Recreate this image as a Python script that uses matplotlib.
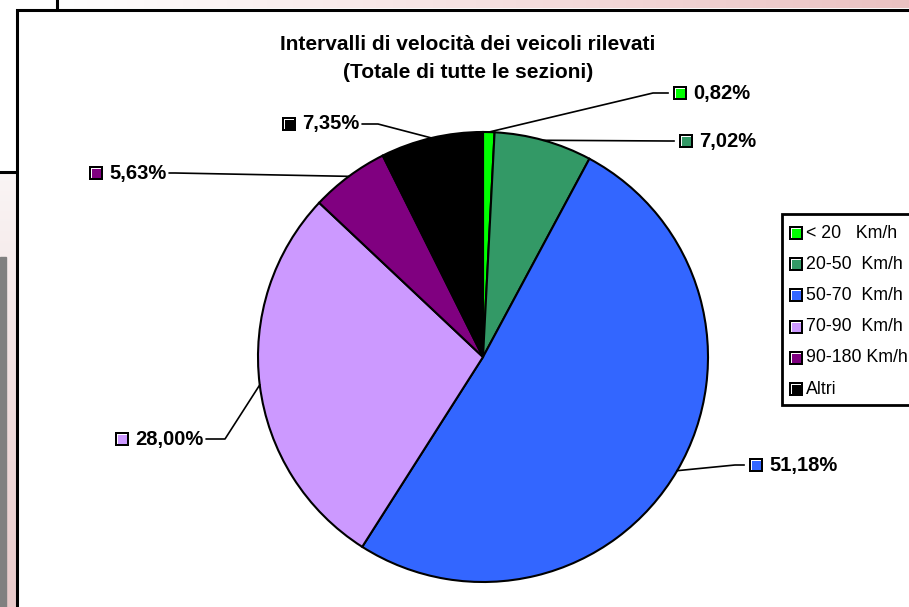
import matplotlib.pyplot as plt
import numpy as np
from matplotlib.patches import Rectangle

# Data
categories = ["< 20   Km/h", "20-50  Km/h", "50-70  Km/h", "70-90  Km/h", "90-180 Km/h", "Altri"]
shares = [0.82, 7.02, 51.18, 28.00, 5.63, 7.35]
colors = ["#00FF00", "#339966", "#3366FF", "#CC99FF", "#800080", "#000000"]
title_lines = ["Intervalli di velocità dei veicoli rilevati", "(Totale di tutte le sezioni)"]

# label layout in screen pixels: (text left x, text centre y, elbow x)
label_pos = [(693, 93, 653), (699, 141, 668), (769, 465, 735),
             (135, 439, 225), (109, 173, 175), (302, 124, 378)]

plt.rcParams["font.family"] = ["Liberation Sans", "DejaVu Sans"]

W, H = 909, 607
fig = plt.figure(figsize=(W / 100, H / 100), dpi=100)
ax = fig.add_axes([0, 0, 1, 1])

# background outside the chart area (screenshot surroundings)
top_grad = np.linspace(0, 1, 256).reshape(1, -1)
pink = np.array([0.92, 0.76, 0.76])
white = np.array([1.0, 1.0, 1.0])
img = white + (pink - white) * top_grad[..., None]
ax.imshow(img, extent=(57, W, 8, 0), aspect="auto", zorder=0)
side = np.linspace(0, 1, 256).reshape(-1, 1)
lo, hi = np.array([0.98, 0.96, 0.96]), np.array([0.91, 0.79, 0.79])
img2 = lo + (hi - lo) * side[..., None]
ax.imshow(img2, extent=(0, 16, H, 172), aspect="auto", zorder=0)
ax.add_patch(Rectangle((0, 257), 6, H - 257, color="#808080", zorder=1))
ax.plot([0, 16], [172, 172], color="black", lw=2.2, zorder=2)
ax.plot([57, 57], [0, 9], color="black", lw=2.2, zorder=2)

# chart area
ax.add_patch(Rectangle((17, 9.5), W, H, facecolor="white", edgecolor="black", lw=2.2, zorder=2))

# pie (y axis is inverted, so counterclock=True draws clockwise on screen)
cx, cy, r = 483, 357, 225
wedges, _ = ax.pie(shares, colors=colors, startangle=-90, counterclock=True,
                   center=(cx, cy), radius=r, frame=True,
                   wedgeprops=dict(edgecolor="black", linewidth=1.5, zorder=3))
ax.set_aspect("auto")
ax.set_xlim(0, W)
ax.set_ylim(H, 0)


def key(x, yc, c):
    ax.add_patch(Rectangle((x, yc - 7), 14, 14, facecolor="black", lw=0, zorder=6))
    ax.add_patch(Rectangle((x + 2, yc - 5), 10, 10, facecolor="white", lw=0, zorder=6))
    ax.add_patch(Rectangle((x + 3, yc - 4), 9, 9, facecolor=c, lw=0, zorder=6))


fig.canvas.draw()
for w, v, c, (tx, ty, ex) in zip(wedges, shares, colors, label_pos):
    ang = np.deg2rad((w.theta1 + w.theta2) / 2)
    px, py = cx + r * np.cos(ang), cy + r * np.sin(ang)
    txt = f"{v:.2f}".replace(".", ",") + "%"
    t = ax.text(tx, ty, txt, fontsize=14.5, fontweight="bold", ha="left", va="center", zorder=6)
    key(tx - 20, ty, c)
    if tx > cx:
        end = tx - 25
    else:
        bb = t.get_window_extent(renderer=fig.canvas.get_renderer()).transformed(ax.transData.inverted())
        end = max(bb.x0, bb.x1) + 3
    ax.plot([px, ex, end], [py, ty, ty], color="black", lw=1.2, zorder=5)

ax.text(468, 44, title_lines[0], fontsize=15, fontweight="bold", ha="center", va="center", zorder=6)
ax.text(468, 73, title_lines[1], fontsize=15, fontweight="bold", ha="center", va="center", zorder=6)

# legend
ax.add_patch(Rectangle((782, 214), 200, 191, facecolor="white", edgecolor="black", lw=2, zorder=6))
for i, (lab, c) in enumerate(zip(categories, colors)):
    y = 233 + i * 31.2
    key(789, y, c)
    ax.text(806, y, lab, fontsize=12.8, ha="left", va="center", zorder=7)

ax.axis("off")

fig.savefig("out.png", dpi=100)
